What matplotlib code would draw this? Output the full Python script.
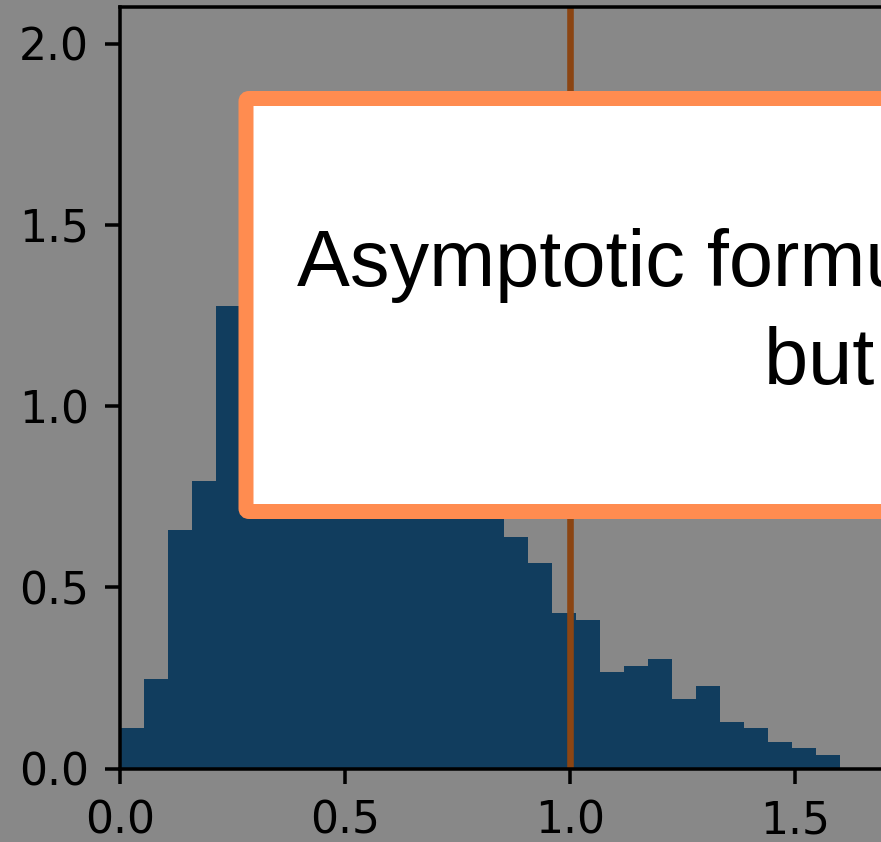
import numpy as np
import matplotlib.pyplot as plt
from matplotlib.patches import FancyBboxPatch

# histogram of the simulated statistic (density scale)
bin_edges = np.linspace(0, 1.6, 31)
density = [0.112, 0.247, 0.657, 0.792, 1.275, 1.11, 1.23, 1.27, 1.2, 1.18,
           1.13, 1.1, 1.05, 0.98, 0.9, 0.8, 0.639, 0.567, 0.429, 0.409,
           0.266, 0.2825, 0.302, 0.192, 0.227, 0.128, 0.112, 0.073, 0.0565, 0.037]
true_value = 1.0
xticks = [0.0, 0.5, 1.0, 1.5, 2.0]
yticks = [0.0, 0.5, 1.0, 1.5, 2.0]
note = "Asymptotic formula gives the right mean,\nbut not the tail"

dpi = 317
W, H = 881, 842
fig = plt.figure(figsize=(W / dpi, H / dpi), dpi=dpi, facecolor='#888888')
ax = fig.add_axes([120 / W, 73.5 / H, 900 / W, 761.2 / H])
ax.set_facecolor('#888888')

ax.bar(bin_edges[:-1], density, width=np.diff(bin_edges), align='edge',
       color='#113d5e', linewidth=0)
ax.axvline(true_value, color='#8b4513', lw=1.5)

ax.set_xlim(0, 2.0)
ax.set_ylim(0, 2.1)
ax.set_xticks(xticks)
ax.set_yticks(yticks)

# note box, laid out in pixels
box = FancyBboxPatch((246 / dpi, (H - 511.5) / dpi), 1200 / dpi, 413 / dpi,
                     boxstyle='round,pad=0,rounding_size=0.01',
                     transform=fig.dpi_scale_trans, facecolor='white',
                     edgecolor='#ff8c50', linewidth=15 * 72 / dpi, zorder=5)
fig.add_artist(box)
# baseline anchor is the second line's baseline
fig.text(297 / dpi, (H - 384) / dpi, note, transform=fig.dpi_scale_trans,
         ha='left', va='baseline', multialignment='center', fontsize=18,
         linespacing=1.4, family='Liberation Sans', color='black', zorder=6)

fig.savefig('out.png', dpi=dpi, facecolor=fig.get_facecolor())
